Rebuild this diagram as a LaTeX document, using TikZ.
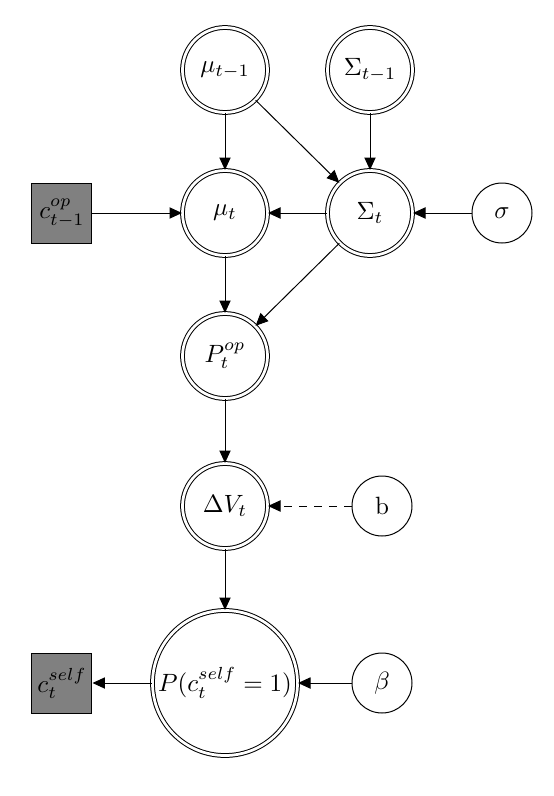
\documentclass[tikz,border=0pt]{standalone}
\usepackage{amsmath,amssymb}
\usepackage{tikz}
\usetikzlibrary{arrows.meta,positioning}

\begin{document}
\begin{tikzpicture}[
    on grid,
    latent/.style={draw, circle, double, double distance=1.1pt, minimum size=34pt, inner sep=0pt},
    bigvar/.style={latent, minimum size=58pt},
    param/.style={draw, circle, minimum size=24pt, inner sep=0pt},
    observed/.style={draw, fill=black!50, minimum size=24pt, inner sep=0pt},
    arrow/.style={-{Triangle[length=5pt,width=4.5pt]}}
]
    % bounding box (keeps the margins)
    \useasboundingbox (-90pt,28pt) rectangle (131.6pt,-290.4pt);

    % Previous step
    \node[latent] (mu0) {$\mu_{t-1}$};
    \node[latent, right=58pt of mu0] (sig0) {$\Sigma_{t-1}$};

    % Current step
    \node[latent, below=57.2pt of mu0] (mu) {$\mu_t$};
    \node[latent, below=57.2pt of sig0] (sig) {$\Sigma_t$};
    \node[param, right=52.8pt of sig] (sigma) {$\sigma$};
    \node[observed, left=65.2pt of mu] (cop) {$c^{op}_{t-1}$};

    % Choice
    \node[latent, below=57.2pt of mu] (pop) {$P^{op}_t$};
    \node[latent, below=60pt of pop] (dv) {$\Delta V_t$};
    \node[param, right=62.8pt of dv] (b) {b};
    \node[bigvar, below=70.8pt of dv] (pself) {$P(c^{self}_t = 1)$};
    \node[param, right=62.8pt of pself] (beta) {$\beta$};
    \node[observed, left=65.2pt of pself] (cself) {$c^{self}_t$};

    % Arrows
    \draw[arrow] (mu0) -- (mu);
    \draw[arrow] (mu0) -- (sig);
    \draw[arrow] (sig0) -- (sig);
    \draw[arrow] (sig) -- (mu);
    \draw[arrow] (sigma) -- (sig);
    \draw[arrow] (cop) -- (mu);
    \draw[arrow] (mu) -- (pop);
    \draw[arrow] (sig) -- (pop);
    \draw[arrow] (pop) -- (dv);
    \draw[arrow, dashed] (b) -- (dv);
    \draw[arrow] (dv) -- (pself);
    \draw[arrow] (beta) -- (pself);
    \draw[arrow] (pself) -- (cself);

\end{tikzpicture}
\end{document}
